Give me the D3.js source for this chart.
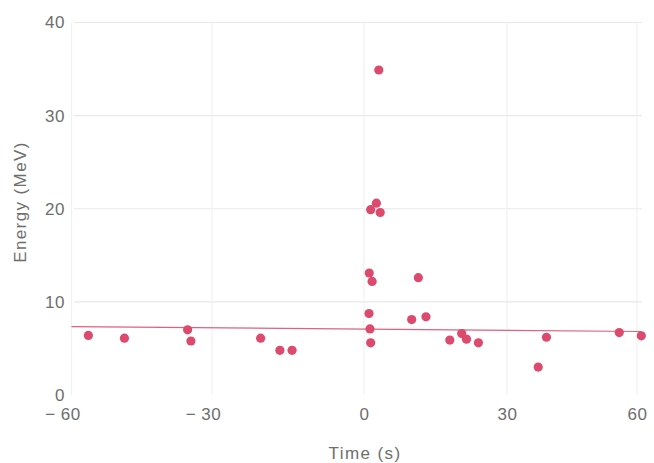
<!DOCTYPE html>
<html><head><meta charset="utf-8">
<script src="https://cdn.jsdelivr.net/npm/d3@7"></script>
<style>body{margin:0;background:#fff}svg{display:block}text{font-family:"Liberation Sans",Arial,sans-serif;fill:#6e6e6e}</style>
</head><body>
<svg id="c" width="654" height="463"></svg>
<script>
const times =   [-56.4,-48.7,-35.2,-34.5,-20.4,-16.6,-14.2, 1.1,1.7,11.4,1.05,10.0,13.0,1.26,1.4,18.0,20.5,21.5,24.0,37.2,39.1,55.9,61.0, 3.1,2.6,1.4,3.4];
const energies =[  6.4,  6.1,  7.0,  5.8,  6.1,  4.8,  4.8,13.1,12.2,12.6,8.75,8.1,8.4,7.1,5.6,5.9,6.6,6.0,5.6,3.0,6.2,6.7,6.35,34.9,20.6,19.9,19.6];
const xTicks = [-60,-30,0,30,60];
const yTicks = [0,10,20,30,40];
const fitLine = [[-60,7.34],[61,6.82]];

const svg = d3.select("#c");
// piecewise-linear scale follows the (slightly uneven) printed tick spacing
const x = d3.scaleLinear().domain(xTicks).range([71.5,212,364,507,637]);
const y = d3.scaleLinear().domain([0,40]).range([395,22.5]);

// grid
svg.append("g").selectAll("line").data(yTicks.filter(d=>d>0)).join("line")
  .attr("x1",74).attr("x2",642).attr("y1",d=>y(d)).attr("y2",d=>y(d))
  .attr("stroke","#e8e8e8").attr("stroke-width",1.2);
svg.append("g").selectAll("line").data(xTicks).join("line")
  .attr("x1",d=>x(d)).attr("x2",d=>x(d)).attr("y1",y(40)).attr("y2",y(0))
  .attr("stroke","#f1f1f1").attr("stroke-width",1.2);

// axes
const fmt = d => d<0 ? "\u2212 " + Math.abs(d) : String(d);
const yAxis = d3.axisLeft(y).tickValues(yTicks).tickSize(0).tickPadding(3).tickFormat(fmt);
const gy = svg.append("g").attr("transform","translate(68,0)").call(yAxis);
gy.select(".domain").remove();
gy.selectAll("text").style("font-size","17px").style("letter-spacing","0.5px").attr("fill","#6e6e6e");
const xAxis = d3.axisBottom(x).tickValues(xTicks).tickSize(0).tickPadding(8).tickFormat(fmt);
const gx = svg.append("g").attr("transform","translate(0,400)").call(xAxis);
gx.select(".domain").remove();
gx.selectAll("text").style("font-size","17px").style("letter-spacing","0.5px").attr("fill","#6e6e6e")
  .attr("dx", d => d<0 ? "-9px" : 0);

// labels
svg.append("text").attr("transform","translate(26,202) rotate(-90)").attr("text-anchor","middle")
  .style("font-size","17px").style("letter-spacing","1.4px").text("Energy (MeV)");
svg.append("text").attr("x",365).attr("y",459).attr("text-anchor","middle")
  .style("font-size","17px").style("letter-spacing","1.4px").text("Time (s)");

// fit line
svg.append("line").attr("x1",x(fitLine[0][0])).attr("y1",y(fitLine[0][1]))
  .attr("x2",x(fitLine[1][0])).attr("y2",y(fitLine[1][1]))
  .attr("stroke","#e0607e").attr("stroke-width",1.2);

// points
svg.append("g").selectAll("circle").data(times.map((t,i)=>[t,energies[i]])).join("circle")
  .attr("cx",d=>x(d[0])).attr("cy",d=>y(d[1])).attr("r",4.6)
  .attr("fill","#dc4a6d");
</script>
</body></html>
